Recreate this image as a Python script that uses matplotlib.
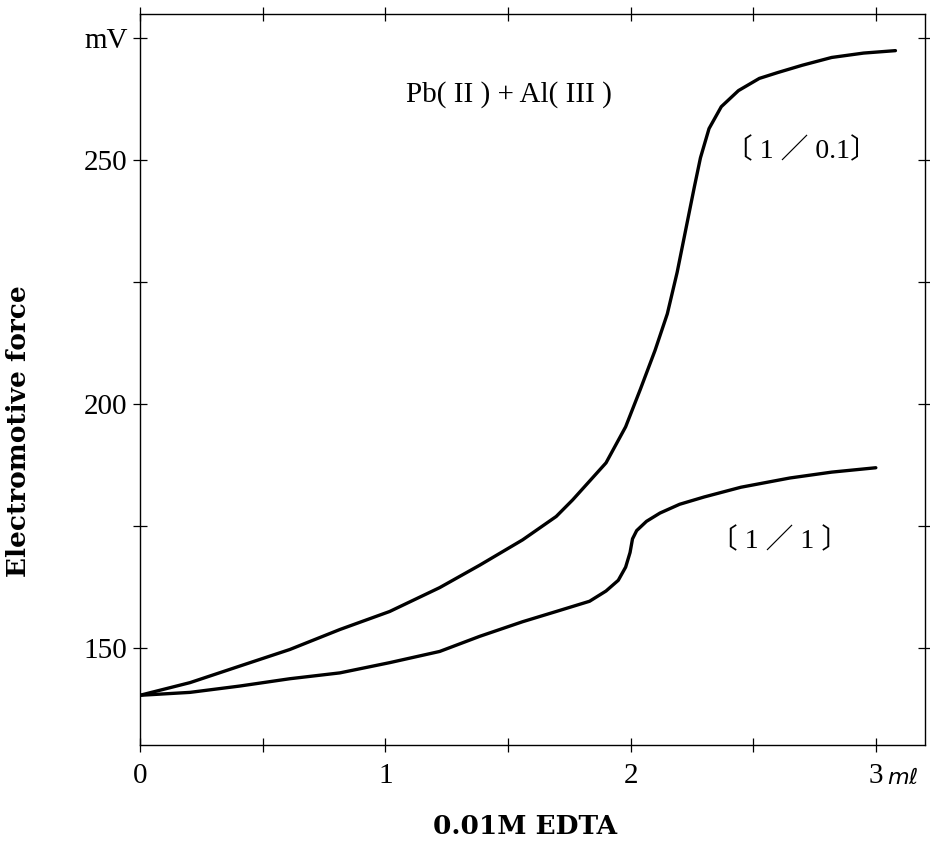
import matplotlib
matplotlib.use("Agg")
import matplotlib.pyplot as plt
from matplotlib.ticker import MultipleLocator

# titration curves (mL of 0.01M EDTA vs mV)
edta_01 = [0.0, 0.204, 0.407, 0.611, 0.815, 1.018, 1.222, 1.385, 1.56, 1.697, 1.764, 1.90,
           1.98, 2.04, 2.10, 2.15, 2.19, 2.23, 2.26, 2.285, 2.32, 2.37, 2.44, 2.525,
           2.6, 2.7, 2.82, 2.95, 3.08]
emf_01 = [140.2, 142.8, 146.2, 149.6, 153.7, 157.4, 162.3, 166.9, 172.1, 176.9, 180.3, 187.9,
          195.3, 203.0, 211.0, 218.5, 227.0, 237.0, 244.5, 250.5, 256.5, 261.0, 264.3, 266.8,
          268.0, 269.5, 271.1, 272.0, 272.5]

edta_1 = [0.0, 0.204, 0.407, 0.611, 0.815, 1.018, 1.222, 1.385, 1.56, 1.697, 1.833, 1.90,
          1.95, 1.98, 1.998, 2.008, 2.025, 2.065, 2.12, 2.2, 2.3, 2.45, 2.65, 2.82, 3.0]
emf_1 = [140.2, 140.8, 142.1, 143.6, 144.8, 146.9, 149.2, 152.3, 155.3, 157.4, 159.5, 161.6,
         163.8, 166.5, 169.5, 172.3, 174.0, 175.9, 177.6, 179.4, 180.9, 182.9, 184.8, 186.0, 186.9]

y_ticks = [150, 200, 250, 275]
y_labels = ['150', '200', '250', 'mV']
x_ticks = [0, 1, 2, 3]
x_labels = ['0', '1', '2', '3']

serif = ['Liberation Serif', 'Noto Sans CJK JP', 'DejaVu Serif']
slab = ['DejaVu Serif']

fig = plt.figure(figsize=(9.3, 8.44), dpi=100)
ax = fig.add_axes([0.1505, 0.1173, 0.844, 0.866])

ax.plot(edta_01, emf_01, color='black', lw=2.4, solid_capstyle='round', solid_joinstyle='round')
ax.plot(edta_1, emf_1, color='black', lw=2.4, solid_capstyle='round', solid_joinstyle='round')

ax.set_xlim(0, 3.2)
ax.set_ylim(130, 280)

ax.set_xticks(x_ticks)
ax.set_xticklabels(x_labels)
ax.set_yticks(y_ticks)
ax.set_yticklabels(y_labels)
ax.xaxis.set_minor_locator(MultipleLocator(0.5))
ax.yaxis.set_minor_locator(MultipleLocator(25))

ax.tick_params(which='both', direction='inout', top=True, right=True, width=0.9, color='black')
ax.tick_params(which='major', length=10, labelsize=21, pad=4)
ax.tick_params(which='minor', length=10)
ax.tick_params(axis='x', pad=8)
for lab in ax.get_xticklabels() + ax.get_yticklabels():
    lab.set_family(serif)

for s in ax.spines.values():
    s.set_linewidth(1.0)

# unit on the last x tick
ax.text(3.045, 130 - 7.0, r'$m\ell$', fontsize=16, ha='left', va='center', family=serif)

ax.text(1.503, 263.5, 'Pb( II ) + Al( III )', fontsize=21, ha='center', va='center', family=serif)
ax.text(2.697, 252.0, '〔 1 ／ 0.1〕', fontsize=20, ha='center', va='center', family=serif)
ax.text(2.607, 171.9, '〔 1 ／ 1 〕', fontsize=20, ha='center', va='center', family=serif)

ax.set_xlabel('0.01M EDTA', fontsize=19, family=slab, fontweight='bold')
ax.xaxis.set_label_coords(0.49, -0.094)
ax.set_ylabel('Electromotive force', fontsize=19, family=slab, fontweight='bold')
ax.yaxis.set_label_coords(-0.139, 0.43)

fig.savefig('out.png', dpi=100)
